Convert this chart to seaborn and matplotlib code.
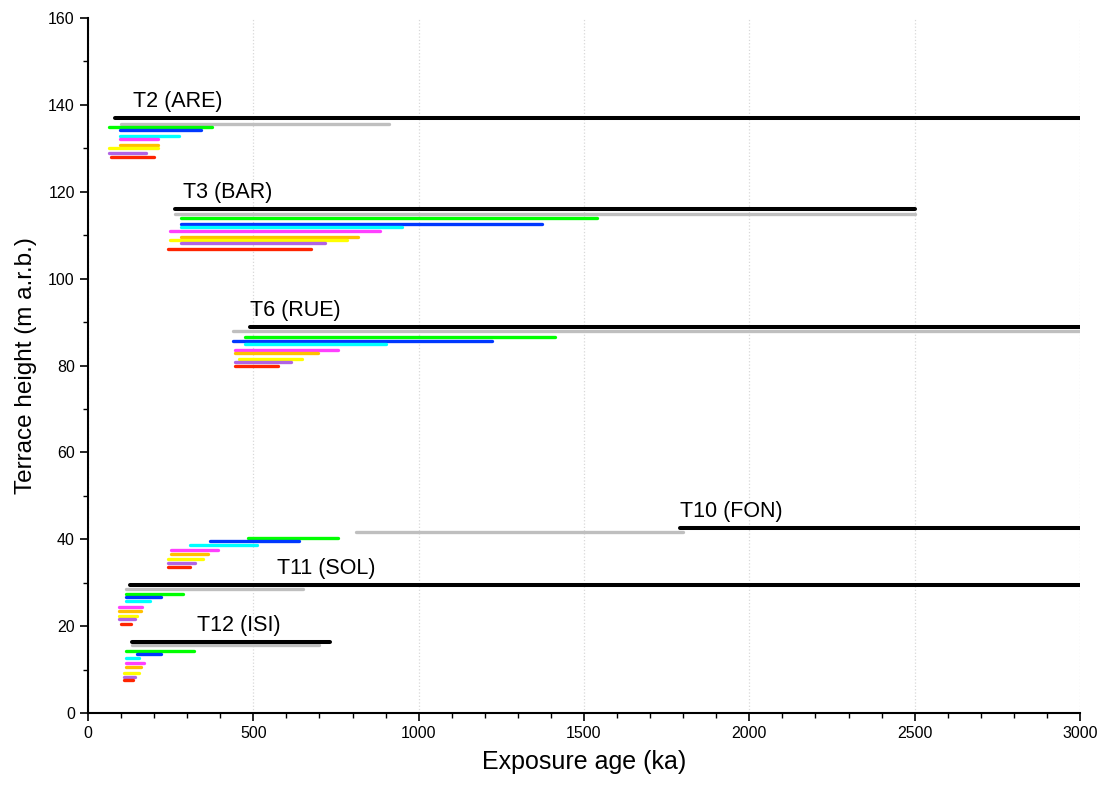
import matplotlib
matplotlib.use("Agg")
import matplotlib.pyplot as plt
from matplotlib.ticker import MultipleLocator
import seaborn as sns
import pandas as pd

# sample order within every terrace group (top to bottom)
samples = ['black', 'grey', 'green', 'blue', 'cyan', 'magenta', 'orange', 'yellow', 'purple', 'red']
palette = {'black': '#000000', 'grey': '#bfbfbf', 'green': '#00ff00', 'blue': '#0038ff',
           'cyan': '#00ffff', 'magenta': '#ff40ff', 'orange': '#ffc000', 'yellow': '#ffff00',
           'purple': '#b064e4', 'red': '#ff2400'}

terraces = ['T2 (ARE)', 'T3 (BAR)', 'T6 (RUE)', 'T10 (FON)', 'T11 (SOL)', 'T12 (ISI)']

# exposure age ranges (ka) and heights (m a.r.b.), one list per terrace
t2_start = [82, 99, 64, 97, 97, 97, 97, 64, 64, 70]
t2_end = [3100, 911, 376, 342, 276, 211, 211, 211, 176, 199]
t2_height = [137.0, 135.7, 134.9, 134.2, 132.8, 132.1, 130.8, 130.0, 129.0, 127.9]

t3_start = [264, 264, 280, 280, 280, 248, 280, 248, 280, 242]
t3_end = [2500, 2500, 1539, 1374, 949, 883, 817, 782, 718, 673]
t3_height = [116.0, 114.8, 113.9, 112.6, 111.8, 111.0, 109.7, 108.9, 108.1, 106.8]

t6_start = [490, 440, 474, 440, 474, 446, 446, 458, 446, 446]
t6_end = [3100, 3100, 1413, 1221, 900, 757, 695, 646, 613, 575]
t6_height = [88.8, 87.9, 86.6, 85.7, 84.9, 83.6, 82.9, 81.6, 80.7, 79.9]

t10_start = [1790, 809, 485, 369, 308, 252, 252, 242, 242, 242]
t10_end = [3100, 1799, 755, 639, 512, 392, 364, 347, 325, 308]
t10_height = [42.6, 41.7, 40.4, 39.5, 38.7, 37.5, 36.7, 35.4, 34.6, 33.7]

t11_start = [127, 115, 115, 115, 115, 93, 93, 93, 93, 99]
t11_end = [3100, 649, 286, 220, 187, 164, 159, 148, 142, 130]
t11_height = [29.5, 28.5, 27.5, 26.6, 25.7, 24.5, 23.6, 22.4, 21.6, 20.6]

t12_start = [132, 132, 115, 147, 115, 115, 115, 110, 110, 110]
t12_end = [732, 700, 321, 220, 154, 170, 160, 154, 143, 137]
t12_height = [16.4, 15.6, 14.3, 13.5, 12.7, 11.4, 10.5, 9.3, 8.4, 7.6]

label_x = [136, 287, 490, 1790, 572, 330]
label_y = [138.4, 117.4, 90.2, 44.0, 30.9, 17.8]

groups = [(t2_start, t2_end, t2_height), (t3_start, t3_end, t3_height),
          (t6_start, t6_end, t6_height), (t10_start, t10_end, t10_height),
          (t11_start, t11_end, t11_height), (t12_start, t12_end, t12_height)]

rows = []
for name, (st, en, hh) in zip(terraces, groups):
    for s, a, b, h in zip(samples, st, en, hh):
        seg = f'{name}-{s}'
        rows.append({'seg': seg, 'sample': s, 'age': a, 'height': h})
        rows.append({'seg': seg, 'sample': s, 'age': b, 'height': h})
df = pd.DataFrame(rows)

sns.set_style('white')
plt.rcParams['font.family'] = ['Liberation Sans', 'DejaVu Sans']
plt.rcParams['text.color'] = 'black'
plt.rcParams['axes.labelcolor'] = 'black'
plt.rcParams['xtick.color'] = 'black'
plt.rcParams['ytick.color'] = 'black'

fig = plt.figure(figsize=(11.07, 7.85), dpi=100)
ax = fig.add_axes([0.0795, 0.0917, 0.8961, 0.8853])

ax.grid(axis='x', color='#d8d8d8', linestyle=':', linewidth=0.9)
ax.set_axisbelow(True)

colored = df[df['sample'] != 'black']
sns.lineplot(data=colored, x='age', y='height', hue='sample', units='seg', estimator=None,
             sort=False, palette=palette, legend=False, linewidth=2.4,
             solid_capstyle='round', ax=ax)
dark = df[df['sample'] == 'black']
sns.lineplot(data=dark, x='age', y='height', units='seg', estimator=None, sort=False,
             color='black', legend=False, linewidth=2.9, solid_capstyle='round', ax=ax)

for name, lx, ly in zip(terraces, label_x, label_y):
    ax.text(lx, ly, name, fontsize=15.5, ha='left', va='bottom', color='black')

ax.set_xlim(0, 3000)
ax.set_ylim(0, 160)
ax.xaxis.set_major_locator(MultipleLocator(500))
ax.xaxis.set_minor_locator(MultipleLocator(100))
ax.yaxis.set_major_locator(MultipleLocator(20))
ax.yaxis.set_minor_locator(MultipleLocator(10))
ax.tick_params(which='major', direction='out', length=6, width=1.2, labelsize=11.5,
               bottom=True, left=True, color='black', labelcolor='black')
ax.tick_params(which='minor', direction='out', length=3.5, width=1.0,
               bottom=True, left=True, color='black')

for side in ['top', 'right']:
    ax.spines[side].set_visible(False)
for side in ['left', 'bottom']:
    ax.spines[side].set_color('black')
    ax.spines[side].set_linewidth(1.5)

ax.set_xlabel('Exposure age (ka)', fontsize=18, labelpad=6, color='black')
ax.set_ylabel('Terrace height (m a.r.b.)', fontsize=17.5, labelpad=8, color='black')

fig.savefig('out.png', dpi=100)
